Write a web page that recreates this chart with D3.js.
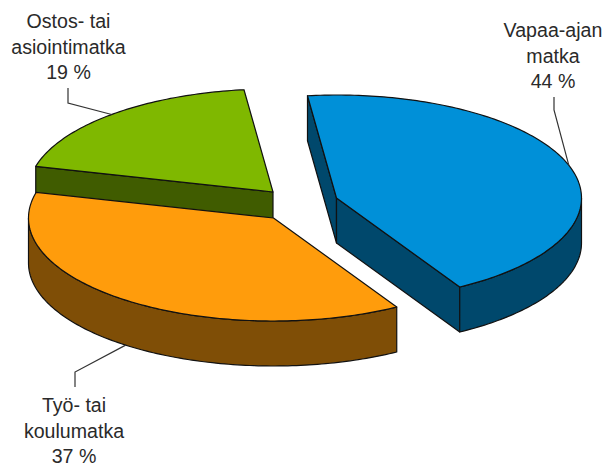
<!DOCTYPE html>
<html>
<head>
<meta charset="utf-8">
<script src="https://cdn.jsdelivr.net/npm/d3@7"></script>
<style>
    html, body { margin: 0; padding: 0; background: #fff; }
    svg { display: block; }
    text { font-family: "Liberation Sans", Arial, sans-serif; font-size: 19.6px; fill: #2a2a2a; text-anchor: middle; }
</style>
</head>
<body>
<div id="chart"></div>
<script>
// ==================== data ==================== //

const labelLines = [["Vapaa-ajan", "matka"], ["Työ- tai", "koulumatka"], ["Ostos- tai", "asiointimatka"]];
// the labels print them rounded
const shares = [43.5, 37.4, 19.1];

// ==================== layout ==================== //

const width = 606, height = 468;
const radiusX = 245, radiusY = 103, depth = 45;
const firstAngle = -6.8;
const drawOrder = [2, 0, 1]; // back to front

const centers = [[336.5, 198], [273.5, 218], [273, 192]];
const topColors = ["#0090d8", "#ff9c0c", "#7fb800"];
const sideColors = ["#00486c", "#7f4e06", "#405c00"];

// first baseline, label centre and the two leader points next to the label
const labelY = [37, 412, 28];
const labelX = [553, 74, 68.5];
const leaderStart = [[554, 97], [75, 387], [68, 88]];
const leaderElbow = [[554, 110], [75, 372], [68, 103]];
const lineHeight = 25.5;

const rad = d => d * Math.PI / 180;

const svg = d3.select("#chart").append("svg")
    .attr("width", width)
    .attr("height", height);

const arcs = d3.pie().sort(null)
    .startAngle(rad(firstAngle))
    .endAngle(rad(firstAngle + 360))(shares);

// angle on the flat disc -> screen position of slice i
const project = (i, angle, drop = 0) => [
    centers[i][0] + radiusX * Math.sin(angle),
    centers[i][1] - radiusY * Math.cos(angle) + drop
];

const sampleArc = (i, from, to, drop = 0) => {
    const n = Math.max(2, Math.ceil(Math.abs(to - from) / rad(1)));
    return d3.range(n + 1).map(k => project(i, from + (to - from) * k / n, drop));
};

const closedPath = d3.line().curve(d3.curveLinearClosed);

function radialWall(i, angle) {
    const [cx, cy] = centers[i];
    return closedPath([[cx, cy], project(i, angle), project(i, angle, depth), [cx, cy + depth]]);
}

function outerWall(i, from, to) {
    // only the part of the rim that faces the viewer
    const a = Math.max(from, rad(90)), b = Math.min(to, rad(270));
    if (a >= b) return null;
    return closedPath(sampleArc(i, a, b).concat(sampleArc(i, b, a, depth)));
}

const slices = svg.selectAll("g.slice")
    .data(drawOrder)
    .join("g")
    .attr("class", "slice");

slices.each(function (i) {
    const g = d3.select(this);
    const from = arcs[i].startAngle, to = arcs[i].endAngle;
    const walls = [];
    if (Math.sin(from) < 0) walls.push(radialWall(i, from));
    if (Math.sin(to) > 0) walls.push(radialWall(i, to));
    const rim = outerWall(i, from, to);
    if (rim) walls.push(rim);

    g.selectAll("path.side")
        .data(walls)
        .join("path")
        .attr("class", "side")
        .attr("d", d => d)
        .attr("fill", sideColors[i])
        .attr("stroke", "#111")
        .attr("stroke-width", 1.2)
        .attr("stroke-linejoin", "round");

    g.append("path")
        .attr("class", "top")
        .attr("d", closedPath([centers[i]].concat(sampleArc(i, from, to))))
        .attr("fill", topColors[i])
        .attr("stroke", "#111")
        .attr("stroke-width", 1.2)
        .attr("stroke-linejoin", "round");
});

// ==================== leaders and labels ==================== //

svg.selectAll("path.leader")
    .data(arcs)
    .join("path")
    .attr("class", "leader")
    .attr("fill", "none")
    .attr("stroke", "#333")
    .attr("stroke-width", 1.2)
    .attr("d", (d, i) => {
        const mid = (d.startAngle + d.endAngle) / 2;
        const drop = Math.cos(mid) < 0 ? depth : 0;
        return d3.line()([leaderStart[i], leaderElbow[i], project(i, mid, drop)]);
    });

svg.selectAll("text.label")
    .data(arcs)
    .join("text")
    .attr("class", "label")
    .each(function (d, i) {
        const lines = labelLines[i].concat(Math.round(d.value) + " %");
        d3.select(this).selectAll("tspan")
            .data(lines)
            .join("tspan")
            .attr("x", labelX[i])
            .attr("y", (t, k) => labelY[i] + k * lineHeight)
            .text(t => t);
    });
</script>
</body>
</html>
